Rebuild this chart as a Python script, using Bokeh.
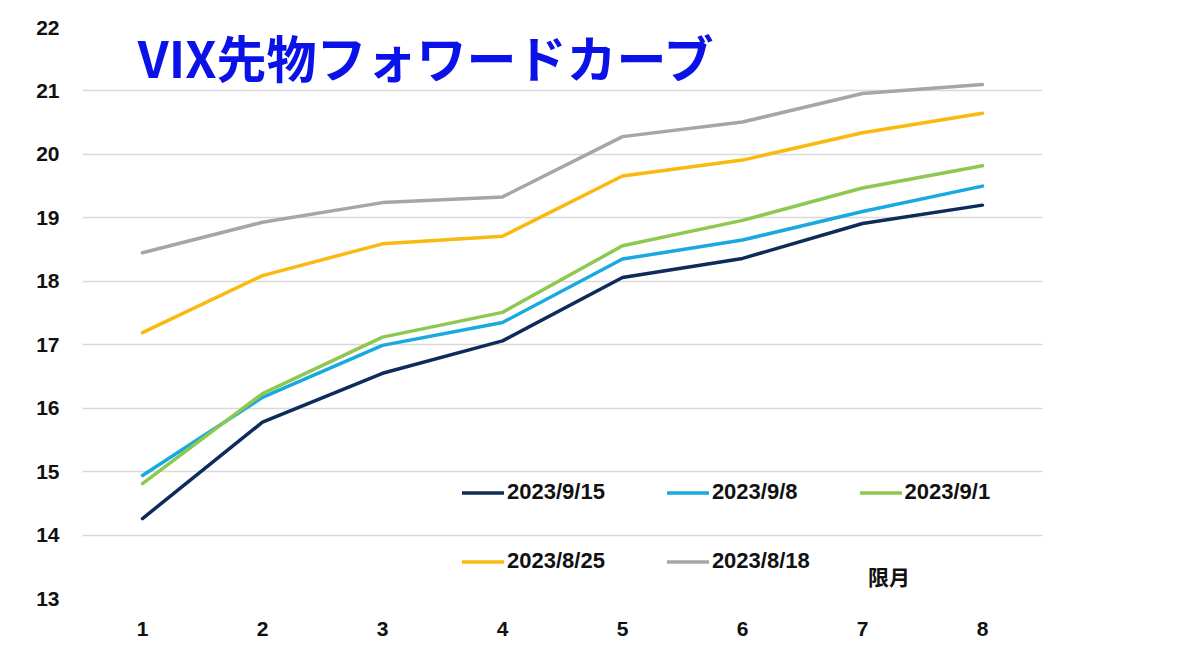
from bokeh.plotting import figure
from bokeh.models import Legend, LegendItem, Label, FixedTicker, BoxAnnotation
from bokeh.embed import file_html
from bokeh.resources import INLINE

# ---- data ----
months = [1, 2, 3, 4, 5, 6, 7, 8]
s_0915 = [14.26, 15.78, 16.55, 17.06, 18.06, 18.36, 18.91, 19.20]
s_0908 = [14.94, 16.17, 16.99, 17.35, 18.35, 18.65, 19.10, 19.50]
s_0901 = [14.81, 16.23, 17.12, 17.51, 18.56, 18.96, 19.47, 19.82]
s_0825 = [17.19, 18.09, 18.59, 18.71, 19.66, 19.91, 20.34, 20.65]
s_0818 = [18.45, 18.93, 19.24, 19.33, 20.28, 20.51, 20.96, 21.10]
series_labels = ["2023/9/15", "2023/9/8", "2023/9/1", "2023/8/25", "2023/8/18"]
series_colors = ["#0E2C5A", "#19A9E1", "#8DC851", "#F9B90F", "#A6A6A6"]
y_ticks = list(range(13, 23))
x_ticks = months
title_text = "VIX先物フォワードカーブ"
x_label = "限月"

LATIN = "Liberation Sans"
CJK = "Noto Sans CJK JP"

p = figure(width=1180, height=646, output_backend="svg", toolbar_location=None,
           x_range=(0.5, 8.5), y_range=(13, 22),
           min_border_left=82, min_border_right=138, min_border_top=27, min_border_bottom=48)
p.outline_line_color = None
p.background_fill_color = "white"
p.border_fill_color = "white"

p.xgrid.grid_line_color = None
p.ygrid.grid_line_color = "#D9D9D9"
p.ygrid.grid_line_width = 1.5

for ax in (p.xaxis, p.yaxis):
    ax.axis_line_color = None
    ax.major_tick_line_color = None
    ax.minor_tick_line_color = None
    ax.major_label_text_font = LATIN
    ax.major_label_text_font_style = "bold"
    ax.major_label_text_font_size = "21px"
    ax.major_label_text_color = "#111111"
p.yaxis.ticker = FixedTicker(ticks=y_ticks)
p.xaxis.ticker = FixedTicker(ticks=x_ticks)
p.yaxis.major_label_standoff = 17
p.xaxis.major_label_standoff = 17

# slide frame lines (left and bottom), positioned relative to the plot frame
p.add_layout(BoxAnnotation(left=-60, right=5000, bottom=-47, top=5000,
                           left_units="screen", right_units="screen",
                           bottom_units="screen", top_units="screen",
                           fill_alpha=0, line_color="#D0D0D0", line_width=2))

data = [s_0915, s_0908, s_0901, s_0825, s_0818]
renderers = []
for vals, col in zip(data, series_colors):
    r = p.line(months, vals, line_color=col, line_width=3.5, line_join="round", line_cap="round")
    renderers.append(r)

items = [LegendItem(label=lab, renderers=[r]) for lab, r in zip(series_labels, renderers)]
common = dict(orientation="horizontal", glyph_width=42, glyph_height=17, label_height=17,
              label_standoff=3, spacing=62, padding=0, margin=0,
              label_text_font=LATIN, label_text_font_style="bold",
              label_text_font_size="22px", label_text_color="#111111",
              border_line_alpha=0, background_fill_alpha=0)
p.add_layout(Legend(items=items[:3], location=(380, 93), **common))
p.add_layout(Legend(items=items[3:], location=(380, 24), **common))

p.add_layout(Label(x=0.96, y=21.55, text=title_text, text_font=CJK,
                   text_font_style="bold", text_font_size="50px",
                   text_color="#0A12E8", text_baseline="middle", text_align="left"))
p.add_layout(Label(x=7.22, y=13.36, text=x_label, text_font=CJK,
                   text_font_style="bold", text_font_size="21px",
                   text_color="#111111", text_baseline="middle", text_align="center"))

open("out.html", "w").write(file_html(p, INLINE))
